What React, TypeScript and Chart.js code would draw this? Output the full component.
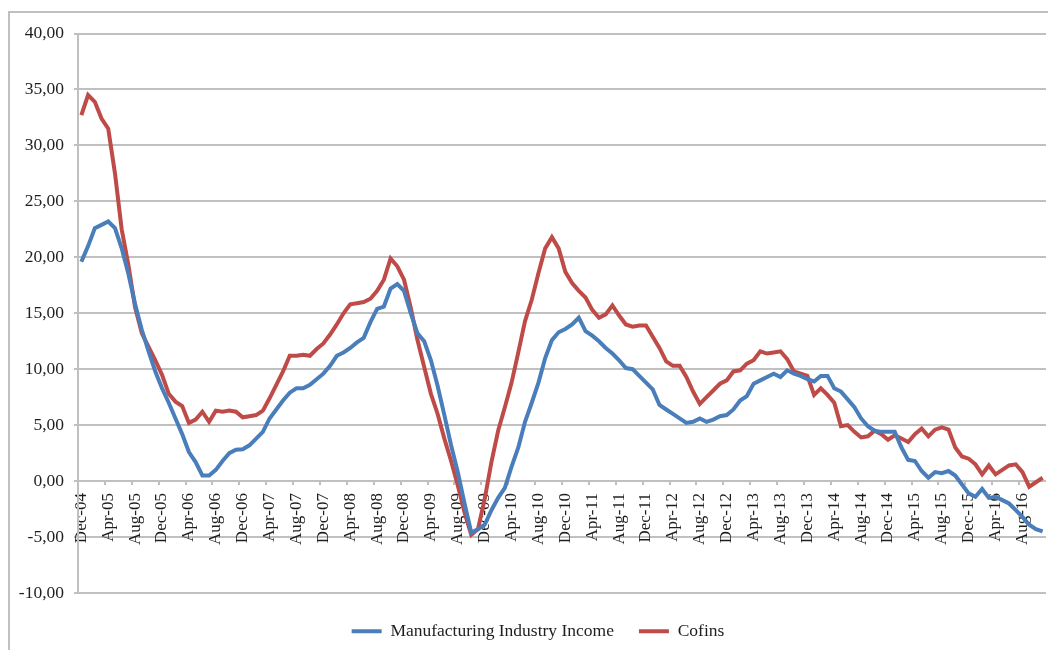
import React, { useEffect, useRef } from 'react';
import { Chart, registerables } from 'chart.js';

Chart.register(...registerables);

// Monthly categories Dec-04 .. Nov-16
const MONTH_NAMES = ['Jan', 'Feb', 'Mar', 'Apr', 'May', 'Jun', 'Jul', 'Aug', 'Sep', 'Oct', 'Nov', 'Dec'];
const START_MONTH = 11; // December
const START_YEAR = 4; // 2004
const N_MONTHS = 144;
const categories: string[] = [];
for (let k = 0; k < N_MONTHS; k++) {
  const m = (START_MONTH + k) % 12;
  const y = START_YEAR + Math.floor((START_MONTH + k) / 12);
  categories.push(`${MONTH_NAMES[m]}-${String(y).padStart(2, '0')}`);
}
const LABEL_EVERY = 4;

const Y_MIN = -10;
const Y_MAX = 40;
const Y_STEP = 5;

// Manufacturing Industry Income (one row = Dec .. Nov)
const manufacturing: number[] = [
  19.6, 21.0, 22.6, 22.9, 23.2, 22.6, 20.8, 18.5, 15.8, 13.5, 11.6, 9.8,
  8.3, 7.0, 5.6, 4.2, 2.6, 1.7, 0.5, 0.5, 1.0, 1.8, 2.5, 2.8,
  2.85, 3.2, 3.8, 4.4, 5.6, 6.4, 7.2, 7.9, 8.3, 8.3, 8.6, 9.1,
  9.6, 10.3, 11.2, 11.5, 11.9, 12.4, 12.8, 14.2, 15.4, 15.6, 17.2, 17.6,
  17.0, 15.0, 13.2, 12.5, 10.8, 8.5, 5.9, 3.2, 0.8, -2.0, -4.6, -4.3,
  -3.9, -2.6, -1.5, -0.6, 1.3, 3.0, 5.3, 7.0, 8.8, 11.0, 12.6, 13.3,
  13.6, 14.0, 14.6, 13.4, 13.0, 12.5, 11.9, 11.4, 10.8, 10.1, 10.0, 9.4,
  8.8, 8.2, 6.8, 6.4, 6.0, 5.6, 5.2, 5.3, 5.6, 5.3, 5.5, 5.8,
  5.9, 6.4, 7.2, 7.6, 8.7, 9.0, 9.3, 9.6, 9.3, 9.9, 9.6, 9.4,
  9.1, 8.9, 9.4, 9.4, 8.3, 8.0, 7.3, 6.6, 5.6, 4.9, 4.5, 4.4,
  4.4, 4.4, 3.0, 1.9, 1.8, 0.9, 0.3, 0.8, 0.7, 0.9, 0.5, -0.3,
  -1.1, -1.4, -0.7, -1.5, -1.4, -1.7, -2.0, -2.6, -3.2, -3.9, -4.3, -4.5,
];

// Cofins (one row = Dec .. Nov)
const cofins: number[] = [
  32.7, 34.5, 33.9, 32.4, 31.5, 27.5, 22.5, 19.3, 15.5, 13.2, 12.0, 10.8,
  9.5, 7.8, 7.1, 6.7, 5.2, 5.5, 6.2, 5.3, 6.3, 6.2, 6.3, 6.2,
  5.7, 5.8, 5.9, 6.3, 7.4, 8.6, 9.8, 11.2, 11.2, 11.3, 11.2, 11.8,
  12.3, 13.1, 14.0, 15.0, 15.8, 15.9, 16.0, 16.3, 17.0, 18.0, 19.9, 19.2,
  18.0, 15.5, 12.6, 10.2, 7.8, 6.0, 3.8, 1.8, -0.4, -2.8, -4.8, -4.3,
  -1.6, 1.7, 4.5, 6.6, 8.8, 11.5, 14.3, 16.2, 18.6, 20.8, 21.8, 20.8,
  18.7, 17.7, 17.0, 16.4, 15.3, 14.6, 14.9, 15.7, 14.8, 14.0, 13.8, 13.9,
  13.9, 12.9, 11.9, 10.7, 10.3, 10.3, 9.3, 8.0, 6.9, 7.5, 8.1, 8.7,
  9.0, 9.8, 9.9, 10.5, 10.8, 11.6, 11.4, 11.5, 11.6, 10.9, 9.8, 9.6,
  9.4, 7.7, 8.3, 7.7, 7.0, 4.9, 5.0, 4.4, 3.9, 4.0, 4.5, 4.2,
  3.7, 4.1, 3.8, 3.5, 4.2, 4.7, 4.0, 4.6, 4.8, 4.6, 3.0, 2.2,
  2.0, 1.5, 0.6, 1.4, 0.6, 1.0, 1.4, 1.5, 0.8, -0.5, -0.1, 0.3,
];

const SERIES_NAMES = ['Manufacturing Industry Income', 'Cofins'];
const BLUE = '#4a7ebb';
const RED = '#be4b48';
const GRID = '#c0c0c0';
const TEXT = '#1e1e1e';
const FONT_FAMILY = "'Liberation Serif', 'Times New Roman', serif";

const shiftLegend = {
  id: 'shiftLegend',
  afterLayout(chart: any) {
    if (chart.legend) {
      chart.legend.left += 10;
      chart.legend.right += 10;
    }
  },
};

export default function App() {
  const canvasRef = useRef<HTMLCanvasElement | null>(null);

  useEffect(() => {
    document.body.style.overflow = 'hidden';
    const canvas = canvasRef.current;
    if (!canvas) return;
    const chart = new Chart(canvas, {
      type: 'line',
      data: {
        labels: categories,
        datasets: [
          {
            label: SERIES_NAMES[0],
            data: manufacturing,
            borderColor: BLUE,
            backgroundColor: BLUE,
            borderWidth: 4,
            pointRadius: 0,
            tension: 0,
          },
          {
            label: SERIES_NAMES[1],
            data: cofins,
            borderColor: RED,
            backgroundColor: RED,
            borderWidth: 4,
            pointRadius: 0,
            tension: 0,
          },
        ],
      },
      plugins: [shiftLegend],
      options: {
        responsive: false,
        animation: false,
        devicePixelRatio: 1,
        layout: { padding: { left: 0, right: 10, top: 18, bottom: 0 } },
        plugins: {
          tooltip: { enabled: false },
          legend: {
            position: 'bottom',
            title: { display: true, text: '', font: { size: 1, lineHeight: 1 }, padding: { top: 0, bottom: 3.5 } },
            labels: {
              usePointStyle: true,
              pointStyle: 'line',
              pointStyleWidth: 30,
              padding: 25,
              color: TEXT,
              font: { family: FONT_FAMILY, size: 17.5 },
            },
          },
        },
        scales: {
          x: {
            type: 'category',
            position: { y: 0 } as any,
            offset: true,
            border: { display: false },
            grid: {
              display: true,
              offset: true,
              drawOnChartArea: false,
              drawTicks: true,
              tickLength: 4,
              lineWidth: 2,
              color: (ctx: any) => (ctx.index % LABEL_EVERY === 0 ? GRID : 'rgba(0,0,0,0)'),
            },
            ticks: {
              autoSkip: false,
              minRotation: 90,
              maxRotation: 90,
              padding: 8,
              color: TEXT,
              font: { family: FONT_FAMILY, size: 17 },
              callback: (_v: any, index: number) => (index % LABEL_EVERY === 0 ? categories[index] : ''),
            },
            afterFit: (scale: any) => {
              scale.paddingLeft = 0;
              scale.paddingRight = 0;
            },
          },
          y: {
            min: Y_MIN,
            max: Y_MAX,
            border: { display: true, color: GRID, width: 2 },
            grid: { color: GRID, lineWidth: 2, tickLength: 4 },
            ticks: {
              stepSize: Y_STEP,
              padding: 10,
              color: TEXT,
              font: { family: FONT_FAMILY, size: 17.5 },
              callback: (v: any) => Number(v).toFixed(2).replace('.', ','),
            },
            afterFit: (scale: any) => {
              scale.width = 68;
            },
          },
        },
      },
    });
    return () => chart.destroy();
  }, []);

  return (
    <div
      style={{
        marginTop: 3,
        borderTop: '2px solid #c0c0c0',
        borderLeft: '2px solid #c0c0c0',
        width: 1046,
        height: 637,
        background: '#fff',
      }}
    >
      <canvas ref={canvasRef} width={1046} height={637} style={{ display: 'block' }} />
    </div>
  );
}
